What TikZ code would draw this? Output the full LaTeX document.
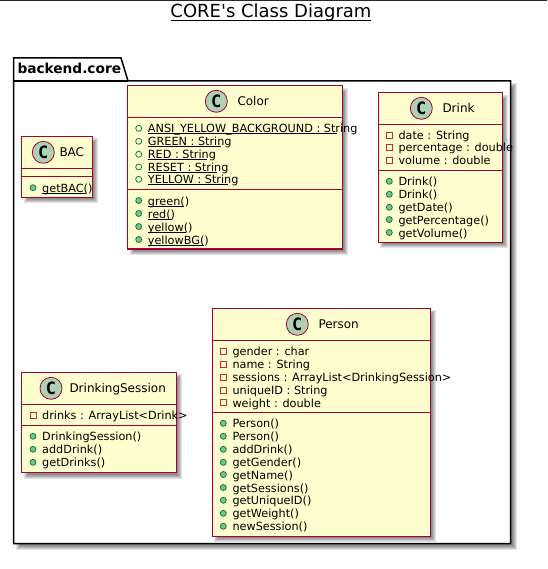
\documentclass[tikz,border=0pt]{standalone}
\usepackage{fontspec}
\setmainfont{DejaVu Sans}
\newfontfamily\spotfont{DejaVu Sans Mono}
\newfontfamily\titlefont{DejaVu Sans}
\definecolor{umlborder}{HTML}{A80036}
\definecolor{umlfill}{HTML}{FEFECE}
\definecolor{spotfill}{HTML}{ADD1B2}
\definecolor{pubfill}{HTML}{84BE84}
\definecolor{publine}{HTML}{038048}
\definecolor{privline}{HTML}{C82930}
\tikzset{
  classbox/.style={draw=umlborder,fill=umlfill,line width=1.5pt,inner sep=0pt,outer sep=0pt,anchor=north west},
  sepline/.style={draw=umlborder,line width=1.5pt},
  spot/.style={circle,draw=umlborder,fill=spotfill,line width=.8pt,minimum size=22pt,inner sep=0pt,font=\fontsize{17}{17}\selectfont\spotfont\bfseries},
  classname/.style={anchor=base west,inner sep=0pt,font=\fontsize{12}{14}\selectfont},
  memtext/.style={anchor=base west,inner sep=0pt,font=\fontsize{11.25}{13}\selectfont},
  pubm/.style={circle,draw=publine,fill=pubfill,line width=.8pt,minimum size=6pt,inner sep=0pt},
  fieldm/.style={circle,draw=publine,fill=none,line width=.8pt,minimum size=6pt,inner sep=0pt},
  privm/.style={rectangle,draw=privline,fill=none,line width=.8pt,minimum size=6pt,inner sep=0pt},
  uline/.style={draw=black,line width=.8pt},
  pkgline/.style={draw=black,line width=1.5pt},
}
% #1 name, #2 marker style, #3 text x, #4 row centre y, #5 text
\newcommand{\mem}[5]{%
  \node[#2] (#1m) at ({#3-9},#4) {};
  \node[memtext] (#1) at (#3,{#4+4.5}) {#5};}
\newcommand{\ulin}[2]{\draw[uline] ([yshift=-1pt]#1.base west) -- ++(#2,0);}
\newcommand{\softshadow}[4]{%
  \foreach \d in {-2,-1,0,1,2}{%
    \fill[black,opacity=.11] ({#1+4-\d},{#2+4-\d}) rectangle ({#3+4+\d},{#4+4+\d});}}
% #1 name, #2 x1, #3 y1, #4 x2, #5 y2, #6 sep1, #7 sep2
\newcommand{\umlclass}[7]{%
  \node[classbox,minimum width={(#4-#2)*1pt},minimum height={(#5-#3)*1pt}] (#1) at (#2,#3) {};
  \draw[sepline] (#2,#6) -- (#4,#6);
  \draw[sepline] (#2,#7) -- (#4,#7);}
\begin{document}
\begin{tikzpicture}[x=1pt,y=-1pt]
\useasboundingbox (0,0) rectangle (547,569);
\fill[white] (0,0) rectangle (547,569);
\coordinate (topl) at (0,0.5);
\coordinate (topr) at (547,0.5);
\draw[black!85,line width=1pt] (topl) -- (topr);
% title
\node[anchor=base,inner sep=0pt,font=\fontsize{18}{20}\selectfont\titlefont] (title) at (271,18) {CORE's Class Diagram};
\draw[black,line width=.9pt] (171,20.5) -- (371,20.5);
% package
\softshadow{13.5}{81}{510.5}{543.5}
\draw[pkgline,fill=white] (13.5,81) -- (13.5,58) -- (121,58) -- (128,81) -- (510.5,81) -- (510.5,543.5) -- (13.5,543.5) -- cycle;
\draw[pkgline] (13.5,81) -- (128,81);
\node[anchor=base west,inner sep=0pt,font=\fontsize{13.7}{16}\selectfont\bfseries] (pkg) at (17.3,74) {backend.core};
% shadows
\softshadow{21.7}{136.3}{92.3}{197.3}
\softshadow{127.7}{85.7}{342.3}{249}
\softshadow{378.3}{92.7}{502.3}{242.3}
\softshadow{21.7}{372.3}{176.3}{472.7}
\softshadow{212.3}{308.3}{430.3}{536.3}
% BAC
\umlclass{bac}{21.7}{136.3}{92.3}{197.3}{168.3}{176.7}
\node[spot] (bacC) at (43.3,152.3) {C};
\node[classname] (bacN) at (59.3,156.7) {BAC};
\mem{bacA}{pubm}{42}{187.7}{getBAC()}
\ulin{bacA}{44}
% Color
\umlclass{color}{127.7}{85.7}{342.3}{249}{117.3}{189.3}
\node[spot] (colorC) at (216.3,101.3) {C};
\node[classname] (colorN) at (237.3,105.7) {Color};
\mem{colA}{fieldm}{147.7}{128.3}{ANSI\_YELLOW\_BACKGROUND : String}
\mem{colB}{fieldm}{147.7}{141.3}{GREEN : String}
\mem{colC}{fieldm}{147.7}{154.3}{RED : String}
\mem{colD}{fieldm}{147.7}{167}{RESET : String}
\mem{colE}{fieldm}{147.7}{179.3}{YELLOW : String}
\mem{colF}{pubm}{147.7}{200.5}{green()}
\mem{colG}{pubm}{147.7}{213.5}{red()}
\mem{colH}{pubm}{147.7}{226.5}{yellow()}
\mem{colI}{pubm}{147.7}{239.5}{yellowBG()}
\ulin{colA}{189}\ulin{colB}{73}\ulin{colC}{59}\ulin{colD}{69}\ulin{colE}{80}
\ulin{colF}{36}\ulin{colG}{24}\ulin{colH}{38}\ulin{colI}{56}
% Drink
\umlclass{drink}{378.3}{92.7}{502.3}{242.3}{124.3}{170.3}
\node[spot] (drinkC) at (421.3,108.3) {C};
\node[classname] (drinkN) at (442.3,112.7) {Drink};
\mem{drA}{privm}{398.3}{135.3}{date : String}
\mem{drB}{privm}{398.3}{147.5}{percentage : double}
\mem{drC}{privm}{398.3}{160.3}{volume : double}
\mem{drD}{pubm}{398.3}{181.3}{Drink()}
\mem{drE}{pubm}{398.3}{194.3}{Drink()}
\mem{drF}{pubm}{398.3}{207.3}{getDate()}
\mem{drG}{pubm}{398.3}{219.5}{getPercentage()}
\mem{drH}{pubm}{398.3}{232.5}{getVolume()}
% DrinkingSession
\umlclass{ds}{21.7}{372.3}{176.3}{472.7}{404.3}{425.3}
\node[spot] (dsC) at (51,388.3) {C};
\node[classname] (dsN) at (69.3,392.7) {DrinkingSession};
\mem{dsA}{privm}{42}{415.3}{drinks : ArrayList<Drink>}
\mem{dsB}{pubm}{42}{436.3}{DrinkingSession()}
\mem{dsD}{pubm}{42}{449.3}{addDrink()}
\mem{dsE}{pubm}{42}{462.3}{getDrinks()}
% Person
\umlclass{person}{212.3}{308.3}{430.3}{536.3}{340.7}{412.7}
\node[spot] (personC) at (297.3,324.3) {C};
\node[classname] (personN) at (318.3,328.7) {Person};
\mem{pA}{privm}{232.3}{351.3}{gender : char}
\mem{pB}{privm}{232.3}{364.3}{name : String}
\mem{pC}{privm}{232.3}{377.3}{sessions : ArrayList<DrinkingSession>}
\mem{pD}{privm}{232.3}{390.3}{uniqueID : String}
\mem{pE}{privm}{232.3}{402.5}{weight : double}
\mem{pF}{pubm}{232.3}{423.3}{Person()}
\mem{pG}{pubm}{232.3}{436.3}{Person()}
\mem{pH}{pubm}{232.3}{449.3}{addDrink()}
\mem{pI}{pubm}{232.3}{462.3}{getGender()}
\mem{pJ}{pubm}{232.3}{474.5}{getName()}
\mem{pK}{pubm}{232.3}{487.5}{getSessions()}
\mem{pL}{pubm}{232.3}{500.3}{getUniqueID()}
\mem{pM}{pubm}{232.3}{513.3}{getWeight()}
\mem{pN}{pubm}{232.3}{526.3}{newSession()}
\end{tikzpicture}
\end{document}
